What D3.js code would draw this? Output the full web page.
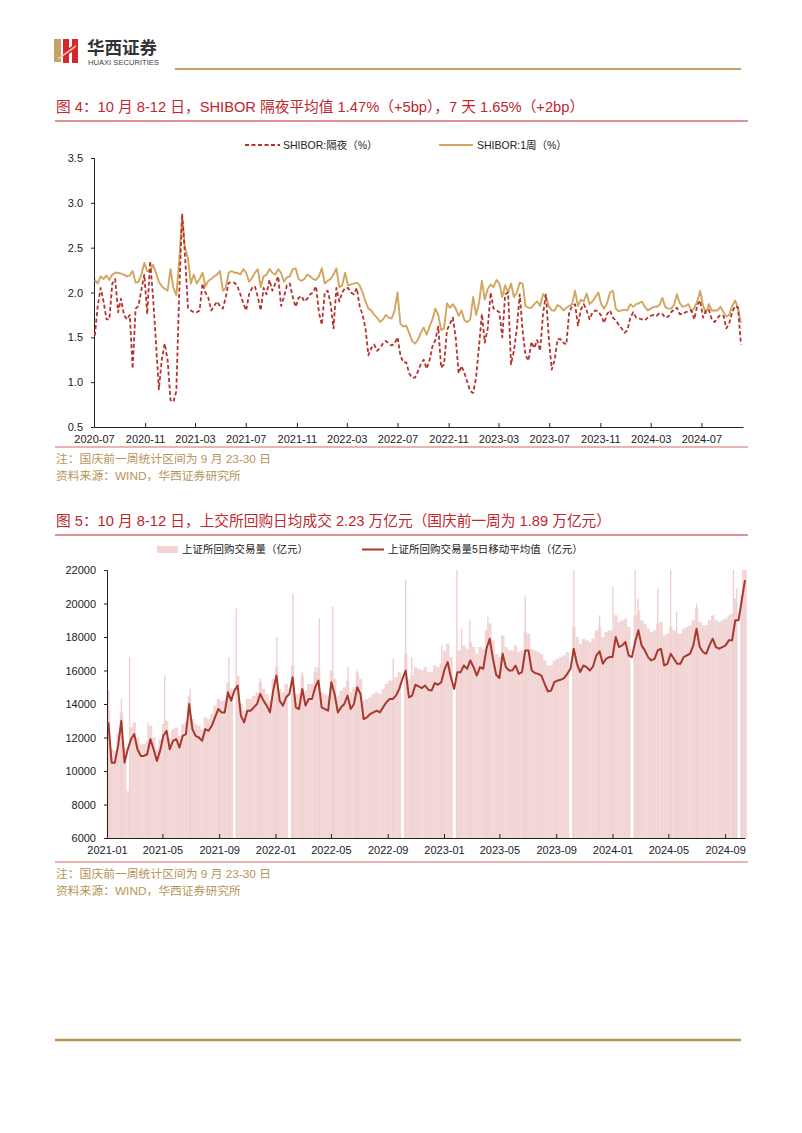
<!DOCTYPE html>
<html><head><meta charset="utf-8">
<script src="https://cdn.jsdelivr.net/npm/d3@7"></script>
<style>body{margin:0;background:#fff;} svg{display:block;}</style>
</head><body>
<svg id="page" width="802" height="1133"></svg>
<script>
// ---------- Figure 4 data (weekly) ----------
const shiborStart = "2020-07-03";
const shiborON = [
1.52,1.85,2.05,1.9,1.7,1.7,2.1,2.15,1.78,1.93,
1.75,1.7,1.75,1.15,1.82,1.85,2.03,2.2,1.76,2.35,
1.95,1.45,0.92,1.25,1.43,1.25,0.8,0.78,0.9,2.0,
2.88,2.4,1.83,1.8,1.78,1.78,1.8,2.1,2.0,1.94,
1.8,1.85,1.9,1.85,1.82,1.95,2.11,2.11,2.11,2.07,
1.98,1.88,1.8,1.98,2.05,2.07,1.95,1.8,2.05,1.98,
2.14,2.02,2.1,2.18,1.85,1.95,2.08,2.1,1.95,1.84,
1.94,1.96,1.9,1.93,1.98,2.0,2.07,1.78,1.64,2.0,
2.02,1.88,1.6,2.05,1.9,2.0,2.05,2.05,2.0,1.98,
2.05,1.85,1.75,1.6,1.3,1.38,1.42,1.35,1.38,1.43,
1.46,1.43,1.41,1.43,1.5,1.3,1.22,1.22,1.1,1.05,
1.05,1.12,1.2,1.25,1.15,1.24,1.4,1.47,1.62,1.16,
1.2,1.58,1.65,1.72,1.5,1.1,1.18,1.1,1.0,0.9,
0.88,1.05,1.4,1.76,1.44,1.6,2.0,1.82,1.8,1.78,
1.5,1.98,2.0,1.2,1.35,1.6,1.98,1.57,1.3,1.24,
1.45,1.38,1.47,1.35,1.76,1.98,1.48,1.14,1.25,1.48,
1.48,1.44,1.42,1.78,1.85,1.87,1.63,1.81,1.87,1.8,
1.7,1.78,1.8,1.79,1.74,1.66,1.76,1.8,1.72,1.69,
1.64,1.6,1.55,1.58,1.72,1.78,1.72,1.71,1.7,1.69,
1.72,1.74,1.75,1.74,1.77,1.76,1.72,1.73,1.78,1.81,
1.83,1.76,1.76,1.78,1.79,1.8,1.7,1.86,1.91,1.72,
1.8,1.81,1.7,1.67,1.72,1.75,1.74,1.6,1.66,1.78,
1.85,1.83,1.42];
const shibor1W = [
2.14,2.1,2.18,2.15,2.19,2.14,2.2,2.22,2.22,2.21,
2.2,2.18,2.19,2.24,2.11,2.12,2.2,2.33,2.24,2.24,
2.31,2.22,2.12,2.07,2.04,2.02,2.26,2.05,1.97,2.35,
2.85,2.5,2.38,2.1,2.2,2.1,2.15,2.22,2.07,2.13,
2.15,2.18,2.2,2.24,2.02,2.05,2.22,2.24,2.22,2.22,
2.2,2.26,2.22,2.12,2.16,2.22,2.26,2.06,2.18,2.2,
2.26,2.22,2.2,2.26,2.22,2.12,2.17,2.18,2.26,2.27,
2.15,2.13,2.15,2.2,2.18,2.15,2.14,2.18,2.27,2.1,
2.13,2.15,2.2,2.27,2.06,2.08,2.22,2.08,2.09,2.1,
2.11,2.08,2.0,1.9,1.82,1.8,1.75,1.72,1.67,1.7,
1.75,1.72,1.71,1.8,2.0,1.65,1.62,1.63,1.55,1.46,
1.43,1.47,1.55,1.61,1.53,1.62,1.7,1.82,1.75,1.58,
1.6,1.88,1.83,1.87,1.82,1.74,1.8,1.69,1.67,1.7,
1.95,1.75,1.88,2.13,1.92,2.04,2.09,2.06,2.14,2.1,
1.95,2.08,2.0,2.1,1.95,2.0,2.11,2.1,1.85,1.83,
1.83,1.87,1.9,1.85,1.98,1.95,1.85,1.8,1.8,1.86,
1.84,1.8,1.83,1.85,1.87,2.02,1.85,1.92,1.9,1.99,
1.87,1.9,1.95,2.0,1.87,1.82,1.88,2.0,2.02,1.82,
1.79,1.8,1.81,1.8,1.87,1.84,1.87,1.88,1.9,1.84,
1.8,1.82,1.84,1.84,1.86,1.94,1.84,1.82,1.82,1.86,
1.98,1.88,1.84,1.85,1.87,1.79,1.83,1.9,2.02,1.85,
1.77,1.87,1.8,1.8,1.8,1.84,1.78,1.73,1.75,1.85,
1.91,1.83,1.66];
const shiborYTicks = [0.5,1.0,1.5,2.0,2.5,3.0,3.5];
const shiborXTicks = ["2020-07","2020-11","2021-03","2021-07","2021-11","2022-03","2022-07","2022-11","2023-03","2023-07","2023-11","2024-03","2024-07"];

// ---------- Figure 5 data (weekly, Monday of week) ----------
const repoStart = "2021-01-04";
const repoVolume = [
13600,11300,11200,12300,13500,11400,8800,12600,12900,12000,
11600,11600,11800,12700,12000,11300,11900,12800,13000,12000,
12500,12600,12100,12800,12900,14500,13100,12800,12700,12500,
13200,13100,13400,13900,14300,14200,14200,15300,14900,null,
15700,14000,13600,14300,14300,14500,14700,15300,14900,14600,
14200,15500,16200,14900,14700,15200,null,16300,14600,14600,
15700,14800,15200,15200,15900,16200,14700,14600,14500,16000,
15500,14500,14800,15000,15400,14700,15000,15900,15500,14200,
14300,14400,14600,14700,14600,14900,15200,15400,15400,15600,
15900,null,17000,15500,15700,16200,16100,16000,16200,15900,
15900,16300,16200,16400,17200,17600,16800,null,17200,17200,
17500,17300,17700,17400,17000,17400,17300,18400,18800,17800,
17000,16800,18100,17400,17200,17200,17500,17100,17200,18300,
18200,17300,17200,17100,17000,16600,16300,16300,16600,16700,
16800,16900,17100,null,18600,18000,17600,17900,17800,17700,
17900,18400,18600,18000,18300,18400,18400,19300,18900,19000,
19100,18600,null,19300,19600,19000,18800,18500,18300,18400,
18800,18900,18100,18200,18600,18400,18200,18200,18500,18600,
18700,19000,19700,18900,18700,18700,19000,19300,19000,18900,
19000,19100,19300,19400,20300,null,20500,22000];
const repoMA5 = [
12900,10500,10500,11500,13000,10500,11300,11900,12200,11300,
10900,10900,11000,11900,11300,10600,11200,12100,12400,11300,
11800,11900,11400,12100,12200,14000,12500,12100,12000,11800,
12500,12400,12700,13200,13700,13500,13500,14700,14200,14800,
15100,13300,12900,13600,13600,13800,14000,14600,14200,13900,
13500,14800,15700,14200,13900,14400,14600,15600,13800,13700,
14900,13900,14300,14300,15000,15400,13800,13700,13600,15300,
14600,13500,13800,14000,14500,13700,14000,15000,14600,13100,
13200,13400,13500,13600,13500,13800,14100,14300,14300,14500,
14900,15500,16000,14400,14500,15150,15050,14950,15100,14850,
14800,15250,15150,15300,16050,16500,15600,14900,15900,15900,
16300,16100,16600,16200,15700,16200,16100,17300,17900,16700,
15750,15550,17000,16200,16000,16000,16300,15800,15900,17200,
17200,16000,15850,15800,15700,15200,14750,14800,15300,15400,
15450,15550,15800,16100,17300,16400,15900,16300,16200,16000,
16250,16900,17150,16400,16700,16800,16800,18000,17400,17500,
17700,16900,16800,17700,18400,17500,17200,16800,16600,16700,
17200,17300,16300,16400,17000,16700,16400,16400,16800,16900,
17000,17500,18500,17400,17100,17000,17500,17900,17400,17300,
17400,17500,17800,17800,19000,19000,20200,21400];
const repoSpikeDates = ["2021-01-05","2021-02-01","2021-02-19","2021-03-31","2021-05-06","2021-06-30","2021-08-31","2021-09-22","2021-10-08","2021-11-29","2022-01-04","2022-02-08","2022-02-28","2022-03-28","2022-04-06","2022-05-05","2022-06-07","2022-06-27","2022-09-13","2022-10-10","2022-10-23","2022-12-27","2023-01-29","2023-02-08","2023-02-26","2023-04-06","2023-06-26","2023-10-09","2023-12-04","2024-01-02","2024-02-19","2024-02-25","2024-04-08","2024-05-06","2024-05-19","2024-07-01","2024-09-19","2024-09-26","2024-10-09"];
const repoSpikeValues = [14800,14300,16800,12900,15700,14900,14300,16800,19700,15500,18000,20600,15900,16200,19100,19800,16200,16000,16700,21400,16800,17500,22000,18500,19000,19200,20400,22000,19300,21000,22000,20300,20900,22000,19500,20000,22000,20900,22000];
const repoYTicks = [6000,8000,10000,12000,14000,16000,18000,20000,22000];
const repoXTicks = ["2021-01","2021-05","2021-09","2022-01","2022-05","2022-09","2023-01","2023-05","2023-09","2024-01","2024-05","2024-09"];

// ---------- drawing ----------
const FONT = '"Liberation Sans","Noto Sans CJK SC",sans-serif';
const svg = d3.select("#page").style("font-family", FONT);
const parse = d3.timeParse("%Y-%m-%d");
const parseM = d3.timeParse("%Y-%m");

// header
const logo = svg.append("g");
logo.append("path").attr("d","M54,39 L61,39 L61,62 L54,62 Z").attr("fill","#c9a063");
logo.append("path").attr("d","M63,39 L69,39 L69,48 L72,46 L72,39 L78,39 L78,63 L72,63 L72,52 L69,54 L69,63 L63,63 Z").attr("fill","#d7262b");
logo.append("path").attr("d","M58,58 L76,45 L76,47 L58,60 Z").attr("fill","#e8c9a0");
svg.append("text").attr("x",87).attr("y",54).attr("font-size",17.5).attr("font-weight","bold").attr("fill","#333").attr("font-family",'"Noto Sans CJK SC"').text("华西证券");
svg.append("text").attr("x",88).attr("y",64.5).attr("font-size",7.6).attr("fill","#444").text("HUAXI SECURITIES");
svg.append("line").attr("x1",175).attr("x2",741).attr("y1",69).attr("y2",69).attr("stroke","#c8a064").attr("stroke-width",2);
svg.append("line").attr("x1",55).attr("x2",741).attr("y1",1040).attr("y2",1040).attr("stroke","#c09058").attr("stroke-width",2.5);

function title(y, txt){
  svg.append("text").attr("x",56).attr("y",y).attr("font-size",14.7).attr("fill","#c0272d").text(txt);
  svg.append("line").attr("x1",55).attr("x2",748).attr("y1",y+9).attr("y2",y+9).attr("stroke","#c0272d").attr("stroke-width",1.2);
}
function notes(y){
  svg.append("line").attr("x1",55).attr("x2",748).attr("y1",y).attr("y2",y).attr("stroke","#d46a6a").attr("stroke-width",1.2);
  svg.append("text").attr("x",56).attr("y",y+16).attr("font-size",11.8).attr("fill","#b8945a").text("注：国庆前一周统计区间为 9 月 23-30 日");
  svg.append("text").attr("x",56).attr("y",y+33).attr("font-size",11.8).attr("fill","#b8945a").text("资料来源：WIND，华西证券研究所");
}

// ===== Figure 4 =====
title(112, "图 4：10 月 8-12 日，SHIBOR 隔夜平均值 1.47%（+5bp），7 天 1.65%（+2bp）");
{
  const s0 = parse(shiborStart);
  const dates = shiborON.map((_,i)=>d3.timeDay.offset(s0, 7*i));
  const x = d3.scaleTime().domain([parse("2020-07-01"), parse("2024-10-09")]).range([94,743]);
  const y = d3.scaleLinear().domain([0.5,3.5]).range([427,158]);
  const g = svg.append("g");
  const yAx = g.append("g").attr("transform","translate(94,0)")
    .call(d3.axisLeft(y).tickValues(shiborYTicks).tickFormat(d3.format(".1f")).tickSize(3).tickPadding(8));
  const xAx = g.append("g").attr("transform","translate(0,427)")
    .call(d3.axisBottom(x).tickValues(shiborXTicks.map(parseM)).tickFormat(d3.timeFormat("%Y-%m")).tickSizeInner(-4).tickSizeOuter(0).tickPadding(8));
  [yAx,xAx].forEach(a=>{a.select(".domain").attr("stroke","#222");a.selectAll(".tick line").attr("stroke","#222");
    a.selectAll("text").attr("font-size",11).attr("fill","#222").attr("font-family",FONT);});
  const line = d3.line().x((d,i)=>x(dates[i])).y(d=>y(d));
  g.append("path").datum(shibor1W).attr("d",line).attr("fill","none").attr("stroke","#d2a65f").attr("stroke-width",1.9).attr("stroke-linejoin","round");
  g.append("path").datum(shiborON).attr("d",line).attr("fill","none").attr("stroke","#b5332f").attr("stroke-width",1.8).attr("stroke-dasharray","4,2.5").attr("stroke-linejoin","round");
  // legend
  const lg = g.append("g");
  lg.append("line").attr("x1",245).attr("x2",280).attr("y1",145).attr("y2",145).attr("stroke","#b5332f").attr("stroke-width",1.8).attr("stroke-dasharray","4,2.5");
  lg.append("text").attr("x",283).attr("y",149).attr("font-size",10.5).attr("fill","#222").text("SHIBOR:隔夜（%）");
  lg.append("line").attr("x1",439).attr("x2",473).attr("y1",145).attr("y2",145).attr("stroke","#d2a65f").attr("stroke-width",1.9);
  lg.append("text").attr("x",477).attr("y",149).attr("font-size",10.5).attr("fill","#222").text("SHIBOR:1周（%）");
}
notes(447);

// ===== Figure 5 =====
title(526, "图 5：10 月 8-12 日，上交所回购日均成交 2.23 万亿元（国庆前一周为 1.89 万亿元）");
{
  const s0 = parse(repoStart);
  const dates = repoMA5.map((_,i)=>d3.timeDay.offset(s0, 7*i));
  const x = d3.scaleTime().domain([parse("2021-01-01"), parse("2024-10-14")]).range([107,745]);
  const y = d3.scaleLinear().domain([6000,22000]).range([838,570]);
  const g = svg.append("g");
  const half = 3.5*24*3600*1000;
  g.append("g").selectAll("rect").data(repoVolume.map((v,i)=>({v,d:dates[i]})).filter(o=>o.v!=null))
    .join("rect")
    .attr("x",o=>x(new Date(+o.d-half)))
    .attr("width",o=>x(new Date(+o.d+half))-x(new Date(+o.d-half))+0.2)
    .attr("y",o=>y(o.v)).attr("height",o=>y(6000)-y(o.v))
    .attr("fill","#f2d6d6");
  g.append("g").selectAll("rect").data(repoSpikeDates.map((d,i)=>({d:parse(d),v:repoSpikeValues[i]})))
    .join("rect")
    .attr("x",o=>x(o.d)-0.7).attr("width",1.4)
    .attr("y",o=>y(o.v)).attr("height",o=>y(6000)-y(o.v))
    .attr("fill","#f0cfcf");
  const yAx = g.append("g").attr("transform","translate(107,0)")
    .call(d3.axisLeft(y).tickValues(repoYTicks).tickFormat(d3.format("d")).tickSize(3).tickPadding(8));
  const xAx = g.append("g").attr("transform","translate(0,838)")
    .call(d3.axisBottom(x).tickValues(repoXTicks.map(parseM)).tickFormat(d3.timeFormat("%Y-%m")).tickSizeInner(-4).tickSizeOuter(0).tickPadding(8));
  [yAx,xAx].forEach(a=>{a.select(".domain").attr("stroke","#222");a.selectAll(".tick line").attr("stroke","#222");
    a.selectAll("text").attr("font-size",11).attr("fill","#222").attr("font-family",FONT);});
  const line = d3.line().x((d,i)=>x(dates[i])).y(d=>y(d));
  g.append("path").datum(repoMA5).attr("d",line).attr("fill","none").attr("stroke","#a9382c").attr("stroke-width",2).attr("stroke-linejoin","round");
  const lg = g.append("g");
  lg.append("rect").attr("x",157).attr("y",546).attr("width",21).attr("height",7).attr("fill","#f2d6d6");
  lg.append("text").attr("x",182).attr("y",553).attr("font-size",10.5).attr("fill","#222").text("上证所回购交易量（亿元）");
  lg.append("line").attr("x1",362).attr("x2",384).attr("y1",549.5).attr("y2",549.5).attr("stroke","#a9382c").attr("stroke-width",2);
  lg.append("text").attr("x",388).attr("y",553).attr("font-size",10.5).attr("fill","#222").text("上证所回购交易量5日移动平均值（亿元）");
}
notes(862);
</script>
</body></html>
